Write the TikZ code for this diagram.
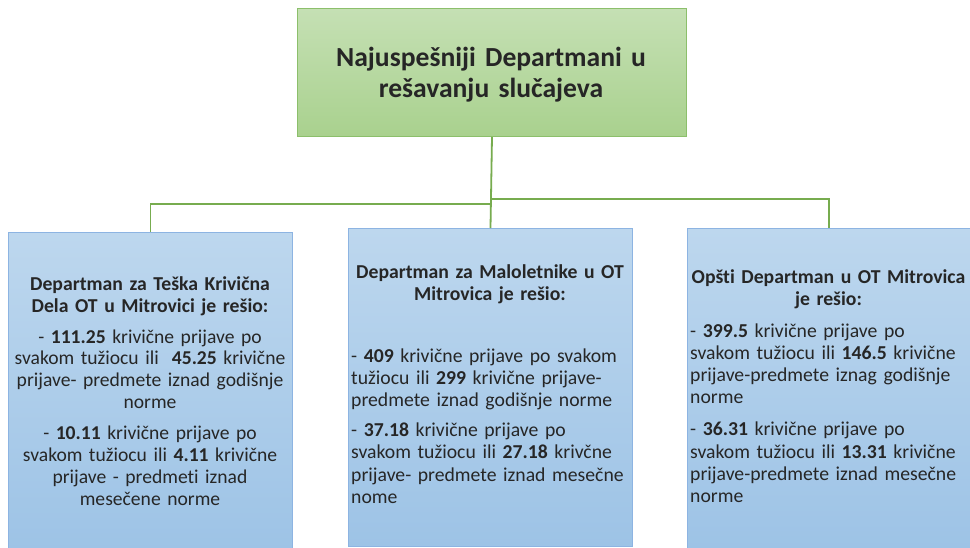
\documentclass[tikz,border=0pt]{standalone}
\usepackage{fontspec}
\setmainfont{Carlito}[Ligatures=NoCommon]
\definecolor{txt}{HTML}{262626}
\definecolor{grtop}{HTML}{C5E0B4}
\definecolor{grbot}{HTML}{A9D18E}
\definecolor{grline}{HTML}{8CBF6B}
\definecolor{link}{HTML}{77AC4F}
\definecolor{bltop}{HTML}{BDD7EE}
\definecolor{blbot}{HTML}{9DC3E6}
\definecolor{blline}{HTML}{8DB4E2}
\begin{document}
\begin{tikzpicture}[x=1pt,y=-1pt,
    titlebox/.style={draw=grline, line width=1pt, top color=grtop, bottom color=grbot,
        minimum width=389pt, minimum height=128pt, anchor=north west, inner sep=0pt},
    deptbox/.style={draw=blline, line width=1pt, top color=bltop, bottom color=blbot,
        minimum width=284pt, anchor=north west, inner sep=0pt},
    linkline/.style={draw=link, line width=1.8pt},
    head/.style={text=txt, font=\fontsize{19.7}{22.4}\selectfont\bfseries, align=center,
        text width=284pt, inner sep=0pt, anchor=base},
    bodyc/.style={text=txt, font=\fontsize{19.6}{21.8}\selectfont, align=center,
        text width=290pt, inner sep=0pt, anchor=base},
    bodyl/.style={text=txt, font=\fontsize{19.7}{22.2}\selectfont, align=left,
        text width=290pt, inner sep=0pt, anchor=base west}]
    \clip (0,0) rectangle (970,547);
    \fill[white] (0,0) rectangle (970,547);
    % boxes
    \node[titlebox] (title) at (297,8) {};
    \node[deptbox, minimum height=320pt] (left) at (8,232) {};
    \node[deptbox, minimum height=318pt, minimum width=284pt] (mid) at (348,228) {};
    \node[deptbox, minimum height=322pt, minimum width=283pt] (right) at (687,228) {};
    % connectors
    \coordinate (busR) at (490.5,199);
    \coordinate (busL) at (490.5,204);
    \draw[linkline] (title.south) -- (mid.north);
    \draw[linkline] (busR) -| (right.north);
    \draw[linkline] (busL) -| (left.north);
    % title
    \node[text=txt, font=\fontsize{27.6}{31}\selectfont\bfseries, align=center, inner sep=0pt,
        text width=389pt, anchor=base] (titletext) at (491,66) {Najuspešniji Departmani u\\rešavanju slučajeva};
    % left
    \node[head] (lefthead) at (150,290) {Departman za Teška Krivična\\Dela OT u Mitrovici je rešio:};
    \node[bodyc] (leftbody) at (150,343) {- \textbf{111.25} krivične prijave po\\
        svakom tužiocu ili\ \ \textbf{45.25} krivične\\prijave- predmete iznad godišnje\\norme\\[9.5pt]
        - \textbf{10.11} krivične prijave po\\svakom tužiocu ili \textbf{4.11} krivične\\
        prijave - predmeti iznad\\mesečene norme};
    % middle
    \node[head] (midhead) at (490,278) {Departman za Maloletnike u OT\\Mitrovica je rešio:};
    \node[bodyl] (midbody) at (351,362) {- \textbf{409} krivične prijave po svakom\\
        tužiocu ili \textbf{299} krivične prijave-\\predmete iznad godišnje norme\\[8pt]
        - \textbf{37.18} krivične prijave po\\svakom tužiocu ili \textbf{27.18} krivčne\\
        prijave- predmete iznad mesečne\\nome};
    % right
    \node[head] (righthead) at (828.5,283) {Opšti Departman u OT Mitrovica\\je rešio:};
    \node[bodyl] (rightbody) at (690,337) {- \textbf{399.5} krivične prijave po\\
        svakom tužiocu ili \textbf{146.5} krivične\\prijave-predmete iznag godišnje\\norme\\[10pt]
        - \textbf{36.31} krivične prijave po\\svakom tužiocu ili \textbf{13.31} krivične\\
        prijave-predmete iznad mesečne\\norme};
\end{tikzpicture}
\end{document}
